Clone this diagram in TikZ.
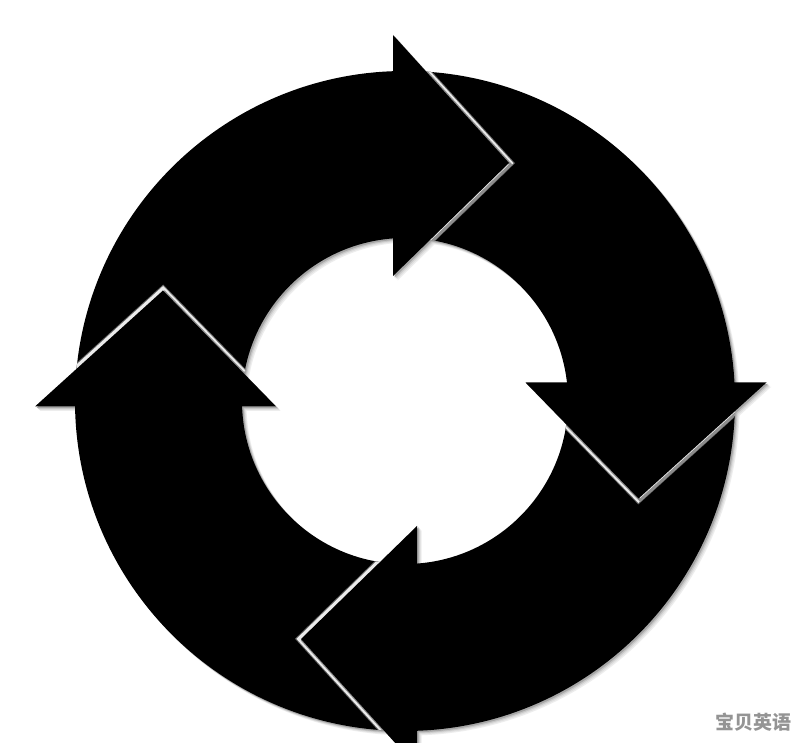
\documentclass[tikz,border=0pt]{standalone}
\usepackage{fontspec}
\newfontfamily\cjk{Noto Sans CJK SC}
\begin{document}
\begin{tikzpicture}[x=1pt,y=1pt,
  hlouter/.style={black!60,line width=8.5pt,line join=miter},
  hl/.style={black!8,line width=6.5pt,line join=miter},
  hlshade/.style={black!45,line width=2.5pt,line join=miter},
  wmark/.style={text=black!42,font=\cjk\bfseries\fontsize{19}{19}\selectfont,inner sep=0pt}]
\useasboundingbox (0,0) rectangle (800,743);
\fill[white] (0,0) rectangle (800,743);
\coordinate (c) at (405,342);
\def\bodypath{(179:330) arc[start angle=179,end angle=90,radius=330] -- (90:163) arc[start angle=90,end angle=179,radius=163] -- cycle}
\def\headpath{(-12,125) -- (-12,366) -- (104,238) -- cycle}
\def\edgepath{(-12,125) -- (104,238) -- (-12,366)}
\def\heads{0/0/0,-90/-4.5/6.5,-180/0/0,-270/-4/6.5}
\begin{scope}[shift={(c)}]
% soft drop shadow
\foreach \o/\col in {4.5/black!7,3.5/black!13,2.5/black!22,1.5/black!35}{
  \foreach \a in {0,-90,-180,-270}{
    \fill[\col,shift={(\o,-\o)},rotate=\a] \bodypath;}
  \foreach \a/\dx/\dy in \heads{
    \fill[\col,shift={(\dx+\o,\dy-\o)},rotate=\a] \headpath;}
}
% arrow bodies
\foreach \a in {0,-90,-180,-270}{
  \fill[black,rotate=\a] \bodypath;}
% highlight gaps in front of the heads, only over the ring
\begin{scope}[even odd rule]
\clip (0,0) circle[radius=330] (0,0) circle[radius=163];
\foreach \a/\dx/\dy in \heads{
  \draw[hlouter,shift={(\dx,\dy)},rotate=\a] \edgepath;
  \draw[hl,shift={(\dx,\dy)},rotate=\a] \edgepath;}
\foreach \a/\dx/\dy in \heads{
  \draw[hlshade,shift={(\dx+1.6,\dy-1.6)},rotate=\a] \edgepath;}
\end{scope}
% arrow heads
\foreach \a/\dx/\dy in \heads{
  \fill[black,shift={(\dx,\dy)},rotate=\a] \headpath;}
\end{scope}
\node[wmark] (wm) at (753,21) {宝贝英语};
\end{tikzpicture}
\end{document}
